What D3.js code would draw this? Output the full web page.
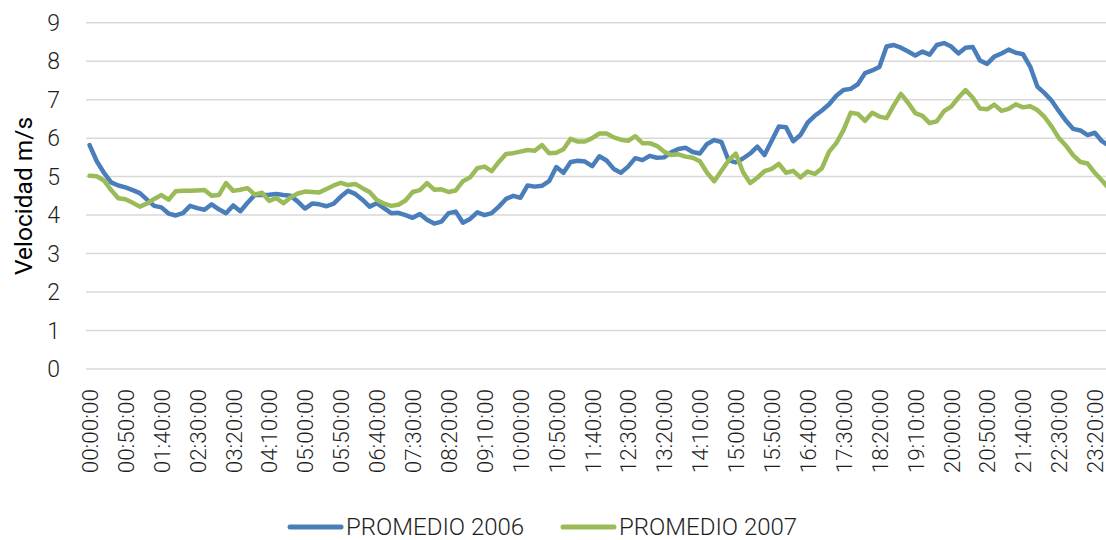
<!DOCTYPE html>
<html>
<head>
<meta charset="utf-8">
<script src="https://cdn.jsdelivr.net/npm/d3@7"></script>
<style>
  html, body { margin: 0; padding: 0; background: #fff; }
  svg { display: block; font-family: Roboto, "Open Sans", sans-serif; }
</style>
</head>
<body>
<svg id="chart" width="1106" height="540"></svg>
<script>
// ---- data ----
const seriesNames = ["PROMEDIO 2006", "PROMEDIO 2007"];
const seriesColors = ["#4a7ebb", "#9bbb59"];

const promedio2006 = [
  5.82, 5.40, 5.10, 4.85, 4.77, 4.72, 4.65, 4.57, 4.40, 4.24,
  4.20, 4.04, 3.99, 4.05, 4.24, 4.18, 4.14, 4.28, 4.15, 4.05,
  4.25, 4.10, 4.32, 4.52, 4.52, 4.53, 4.55, 4.52, 4.50, 4.35,
  4.17, 4.30, 4.28, 4.23, 4.30, 4.48, 4.63, 4.55, 4.40, 4.22,
  4.31, 4.18, 4.05, 4.06, 4.00, 3.93, 4.03, 3.88, 3.78, 3.83,
  4.05, 4.09, 3.80, 3.90, 4.07, 4.00, 4.05, 4.22, 4.42, 4.50,
  4.45, 4.77, 4.74, 4.76, 4.88, 5.25, 5.10, 5.38, 5.41, 5.39,
  5.27, 5.53, 5.42, 5.20, 5.10, 5.26, 5.48, 5.43, 5.54, 5.49,
  5.50, 5.63, 5.72, 5.75, 5.64, 5.60, 5.85, 5.95, 5.90, 5.42,
  5.37, 5.47, 5.60, 5.78, 5.56, 5.93, 6.30, 6.28, 5.92, 6.08,
  6.40, 6.58, 6.72, 6.88, 7.10, 7.25, 7.28, 7.40, 7.69, 7.76,
  7.85, 8.38, 8.42, 8.35, 8.25, 8.15, 8.25, 8.17, 8.42, 8.47,
  8.38, 8.20, 8.35, 8.37, 8.02, 7.93, 8.12, 8.20, 8.30, 8.22,
  8.18, 7.86, 7.34, 7.17, 6.97, 6.70, 6.45, 6.24, 6.20, 6.08,
  6.14, 5.92, 5.80
];

const promedio2007 = [
  5.02, 5.01, 4.90, 4.65, 4.44, 4.41, 4.32, 4.22, 4.30, 4.42,
  4.52, 4.40, 4.62, 4.63, 4.63, 4.64, 4.65, 4.50, 4.52, 4.83,
  4.63, 4.66, 4.70, 4.53, 4.58, 4.37, 4.44, 4.31, 4.46, 4.56,
  4.61, 4.60, 4.59, 4.68, 4.77, 4.84, 4.78, 4.81, 4.70, 4.60,
  4.39, 4.30, 4.24, 4.27, 4.38, 4.60, 4.65, 4.83, 4.66, 4.67,
  4.60, 4.64, 4.88, 4.98, 5.22, 5.26, 5.14, 5.38, 5.59, 5.61,
  5.65, 5.69, 5.67, 5.82, 5.61, 5.62, 5.71, 5.98, 5.91, 5.91,
  6.00, 6.12, 6.12, 6.02, 5.96, 5.93, 6.05, 5.87, 5.87, 5.80,
  5.65, 5.56, 5.58, 5.52, 5.49, 5.40, 5.10, 4.88, 5.15, 5.42,
  5.60, 5.12, 4.83, 4.97, 5.14, 5.20, 5.33, 5.10, 5.15, 4.98,
  5.13, 5.07, 5.22, 5.65, 5.87, 6.21, 6.66, 6.63, 6.45, 6.66,
  6.56, 6.52, 6.85, 7.15, 6.92, 6.65, 6.58, 6.39, 6.44, 6.70,
  6.82, 7.05, 7.25, 7.05, 6.77, 6.75, 6.87, 6.71, 6.76, 6.88,
  6.80, 6.83, 6.73, 6.55, 6.30, 6.00, 5.80, 5.55, 5.38, 5.34,
  5.10, 4.90, 4.68
];

const tickLabels = [
  "00:00:00","00:50:00","01:40:00","02:30:00","03:20:00","04:10:00",
  "05:00:00","05:50:00","06:40:00","07:30:00","08:20:00","09:10:00",
  "10:00:00","10:50:00","11:40:00","12:30:00","13:20:00","14:10:00",
  "15:00:00","15:50:00","16:40:00","17:30:00","18:20:00","19:10:00",
  "20:00:00","20:50:00","21:40:00","22:30:00","23:20:00"
];
const yTicks = [0, 1, 2, 3, 4, 5, 6, 7, 8, 9];

// categories: every 10 minutes of the day
const pad = n => String(n).padStart(2, "0");
const categories = d3.range(144).map(k => pad(Math.floor(k / 6)) + ":" + pad((k % 6) * 10) + ":00");

// ---- layout ----
const svg = d3.select("#chart");
const left = 86, catW = 7.18;
const x = d3.scaleBand().domain(categories).range([left, left + categories.length * catW]).padding(0);
const xc = c => x(c) + x.bandwidth() / 2;
const y = d3.scaleLinear().domain([0, 9]).range([369, 22.7]);

const textColor = "#1e1e1e";

// gridlines
svg.append("g").selectAll("line").data(yTicks).join("line")
  .attr("x1", left).attr("x2", 1106)
  .attr("y1", d => y(d)).attr("y2", d => y(d))
  .attr("stroke", "#d9d9d9").attr("stroke-width", 1.5);

// y axis labels
svg.append("g").selectAll("text").data(yTicks).join("text")
  .attr("x", 60).attr("y", d => y(d)).attr("dy", "0.35em")
  .attr("text-anchor", "end")
  .attr("font-size", 23).attr("font-weight", 300).attr("fill", textColor)
  .text(d => d);

// y title
svg.append("text")
  .attr("transform", "translate(32,196) rotate(-90)")
  .attr("text-anchor", "middle")
  .attr("font-size", 24.5).attr("font-weight", 400).attr("fill", "#000")
  .text("Velocidad m/s");

// x labels
const xAxis = d3.axisBottom(x).tickValues(tickLabels).tickSize(0).tickPadding(0);
const gx = svg.append("g").attr("transform", "translate(0,389)").call(xAxis);
gx.select(".domain").remove();
gx.selectAll("text")
  .attr("transform", "rotate(-90)")
  .attr("x", 0).attr("y", 0.5).attr("dy", "0.35em")
  .attr("text-anchor", "end")
  .attr("font-size", 22.5).attr("font-weight", 300).attr("fill", textColor)
  .style("font-family", "Roboto, sans-serif");

// lines
const series = [promedio2006, promedio2007];
const line = d3.line().x((d, i) => xc(categories[i])).y(d => y(d));
svg.append("g").selectAll("path").data(series).join("path")
  .attr("d", line)
  .attr("fill", "none")
  .attr("stroke", (d, i) => seriesColors[i])
  .attr("stroke-width", 4.5)
  .attr("stroke-linejoin", "round")
  .attr("stroke-linecap", "round");

// legend
const legendX = [290, 563];
const lg = svg.append("g").selectAll("g").data(seriesNames).join("g")
  .attr("transform", (d, i) => `translate(${legendX[i]},527)`);
lg.append("line").attr("x1", 0).attr("x2", 51).attr("y1", 0).attr("y2", 0)
  .attr("stroke", (d, i) => seriesColors[i]).attr("stroke-width", 5).attr("stroke-linecap", "round");
lg.append("text").attr("x", 56).attr("y", 0).attr("dy", "0.35em")
  .attr("font-size", 24).attr("font-weight", 300).attr("fill", textColor)
  .text(d => d);
</script>
</body>
</html>
